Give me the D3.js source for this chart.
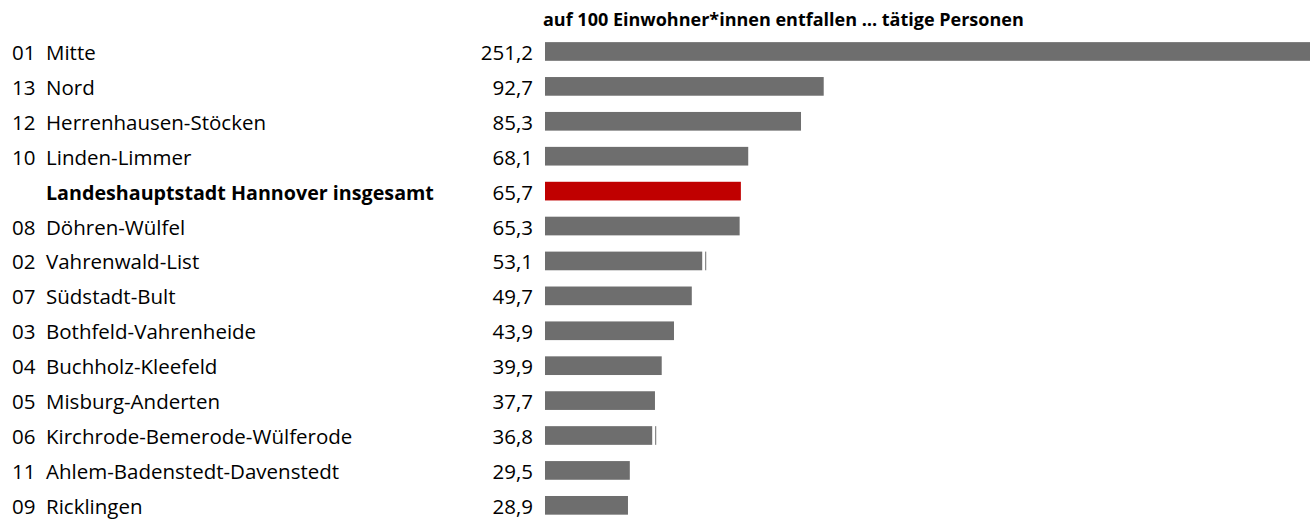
<!DOCTYPE html>
<html><head><meta charset="utf-8">
<script src="https://cdn.jsdelivr.net/npm/d3@7"></script>
<style>
html,body{margin:0;padding:0;background:#fff;}
text{font-family:"Open Sans",Lato,sans-serif;fill:#000;}
</style></head>
<body><svg id="c" width="1316" height="519"></svg>
<script>
const codes = ["01","13","12","10","","08","02","07","03","04","05","06","11","09"];
const names = ["Mitte","Nord","Herrenhausen-Stöcken","Linden-Limmer","Landeshauptstadt Hannover insgesamt","Döhren-Wülfel","Vahrenwald-List","Südstadt-Bult","Bothfeld-Vahrenheide","Buchholz-Kleefeld","Misburg-Anderten","Kirchrode-Bemerode-Wülferode","Ahlem-Badenstedt-Davenstedt","Ricklingen"];
const values = [251.2,92.7,85.3,68.1,65.7,65.3,53.1,49.7,43.9,39.9,37.7,36.8,29.5,28.9];
const isTotal = [false,false,false,false,true,false,false,false,false,false,false,false,false,false];
const hasSliver = [false,false,false,false,false,false,true,false,false,false,false,true,false,false];
const title = "auf 100 Einwohner*innen entfallen … tätige Personen";

const svg = d3.select("#c");
const rows = d3.range(values.length);
const y = d3.scaleBand().domain(rows).range([34.1, 522.7]).paddingInner(0.465).paddingOuter(0.23);
const x = d3.scaleLinear().domain([0, 251.2]).range([539.3, 1310]);
const barStart = 545;
const fs = 20.5;

svg.append("text").attr("x", 543).attr("y", 26).attr("font-size", 18).attr("font-weight", "bold").text(title);

const g = svg.selectAll("g.row").data(rows).join("g").attr("class","row");
g.append("rect")
  .attr("x", barStart)
  .attr("y", i => y(i))
  .attr("width", i => x(values[i]) - barStart)
  .attr("height", y.bandwidth())
  .attr("fill", i => isTotal[i] ? "#c00000" : "#6e6e6e");
g.filter(i => hasSliver[i]).append("rect")
  .attr("x", i => x(values[i]) + 3)
  .attr("y", i => y(i))
  .attr("width", 1)
  .attr("height", y.bandwidth())
  .attr("fill", "#6e6e6e");
const by = i => y(i) + y.bandwidth()/2 + 8.5;
g.append("text").attr("x", 12).attr("y", by).attr("font-size", fs).text(i => codes[i]);
g.append("text").attr("x", 46).attr("y", by)
  .attr("font-size", i => isTotal[i] ? 19.7 : fs)
  .attr("font-weight", i => isTotal[i] ? "bold" : "normal").text(i => names[i]);
g.append("text").attr("x", 533).attr("y", by).attr("font-size", fs).attr("text-anchor","end")
  .text(i => d3.format(".1f")(values[i]).replace(".", ","));
</script></body></html>
